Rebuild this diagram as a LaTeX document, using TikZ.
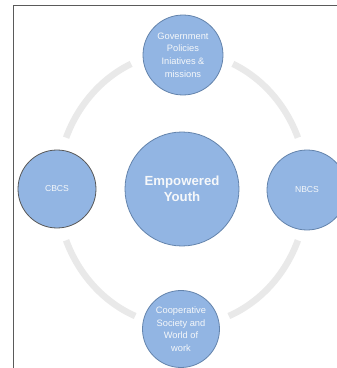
\documentclass[tikz,border=0pt]{standalone}
\usepackage{fontspec}
\setmainfont{Liberation Sans}
\usetikzlibrary{calc}
\begin{document}
\begin{tikzpicture}[x=1pt,y=1pt,
  hub/.style={circle,fill=discfill,draw=discedge,line width=0.8pt,inner sep=0pt,
    minimum size=#1,text=discText,align=center},
  small/.style={font=\fontsize{9.3}{12.6}\selectfont},
  tag/.style={font=\fontsize{8.6}{10}\selectfont},
  ring/.style={draw=ringgray,line width=6.5pt}]
\definecolor{discfill}{RGB}{146,181,227}
\definecolor{discedge}{RGB}{100,132,172}
\definecolor{discText}{RGB}{246,248,250}
\definecolor{ringgray}{RGB}{233,233,233}
\definecolor{framegray}{RGB}{90,90,90}
\clip (0,0) rectangle (337,368);
\fill[white] (0,0) rectangle (337,368);
% open frame: top and left edges only
\draw[framegray,line width=0.8pt] (13,0) -- (13,363) -- (337,363);
% faded connecting ring between the outer discs
\coordinate (ringc) at (182,179);
\foreach \a/\b in {22/66,114/158,202/248,292/338}
  \draw[ring] ($(ringc)+(\a:125 and 137)$) arc[start angle=\a,end angle=\b,x radius=125,y radius=137];
% discs
\node[hub=114pt,font=\fontsize{13.2}{15.5}\selectfont\bfseries] (core) at (182,179) {Empowered\\Youth};
\node[hub=80pt,small] (gov) at (183,313) {Government\\Policies\\Iniatives \&\\missions};
\node[hub=78pt,tag,draw=black!65] (cbcs) at (57,179) {CBCS};
\node[hub=80pt,tag] (nbcs) at (307,178) {NBCS};
\node[hub=77pt,small] (coop) at (181,39) {Cooperative\\Society and\\World of\\work};
\end{tikzpicture}
\end{document}
